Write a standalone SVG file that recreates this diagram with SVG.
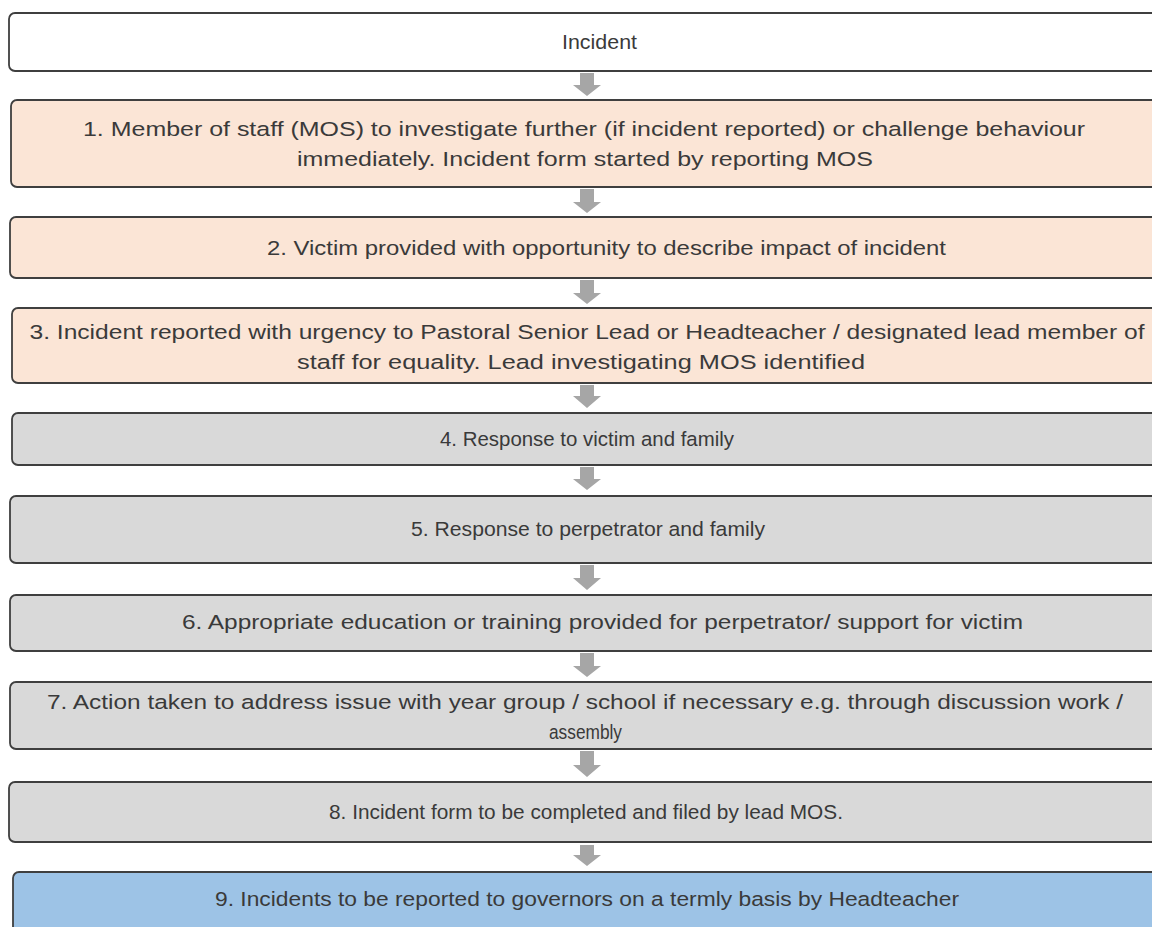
<svg xmlns="http://www.w3.org/2000/svg" width="1152" height="927" viewBox="0 0 1152 927">
<style>
.box{stroke:#3f3f3f;stroke-width:1.8}
.w{fill:#ffffff}
.p{fill:#fbe5d6}
.g{fill:#d9d9d9}
.b{fill:#9dc3e6}
.t{font-family:"Liberation Sans",Arial,sans-serif;font-size:20.5px;fill:#3a3a3a;text-anchor:middle}
.arr{fill:#a6a6a6;stroke:none}
</style>
<rect width="1152" height="927" fill="#ffffff"/>
<g id="connectors">
<path class="arr" d="M580,73H594V85H601L587,96L573,85H580Z"/>
<path class="arr" d="M580,189H594V202H601L587,213L573,202H580Z"/>
<path class="arr" d="M580,280H594V293H601L587,304L573,293H580Z"/>
<path class="arr" d="M580,385H594V396H601L587,408L573,396H580Z"/>
<path class="arr" d="M580,467H594V479H601L587,490L573,479H580Z"/>
<path class="arr" d="M580,565H594V578H601L587,590L573,578H580Z"/>
<path class="arr" d="M580,653H594V666H601L587,677L573,666H580Z"/>
<path class="arr" d="M580,751H594V765H601L587,777L573,765H580Z"/>
<path class="arr" d="M580,845H594V855H601L587,866L573,855H580Z"/>
</g>
<g id="n0"><rect class="box w" x="9" y="13" width="1151" height="58" rx="6"/><text class="t" x="599.5" y="49" textLength="75" lengthAdjust="spacingAndGlyphs">Incident</text></g>
<g id="n1"><rect class="box p" x="11" y="100" width="1149" height="87" rx="6"/><text class="t" x="584" y="136" textLength="1002" lengthAdjust="spacingAndGlyphs">1. Member  of staff (MOS) to investigate further (if incident reported) or challenge behaviour</text><text class="t" x="585" y="166" textLength="576" lengthAdjust="spacingAndGlyphs">immediately. Incident form started by reporting MOS</text></g>
<g id="n2"><rect class="box p" x="10" y="217" width="1150" height="61" rx="6"/><text class="t" x="606.5" y="255" textLength="679" lengthAdjust="spacingAndGlyphs">2. Victim provided with opportunity to describe impact of incident</text></g>
<g id="n3"><rect class="box p" x="12" y="308" width="1148" height="75" rx="6"/><text class="t" x="587" y="339" textLength="1115" lengthAdjust="spacingAndGlyphs">3. Incident reported with urgency to Pastoral Senior Lead or Headteacher / designated lead member  of</text><text class="t" x="581" y="369" textLength="568" lengthAdjust="spacingAndGlyphs">staff for equality. Lead  investigating MOS identified</text></g>
<g id="n4"><rect class="box g" x="12" y="413" width="1148" height="52" rx="6"/><text class="t" x="587" y="446" textLength="294" lengthAdjust="spacingAndGlyphs">4. Response to victim and family</text></g>
<g id="n5"><rect class="box g" x="10" y="496" width="1150" height="67" rx="6"/><text class="t" x="588" y="536" textLength="354" lengthAdjust="spacingAndGlyphs">5. Response to perpetrator and family</text></g>
<g id="n6"><rect class="box g" x="10" y="595" width="1150" height="56" rx="6"/><text class="t" x="602.5" y="629" textLength="841" lengthAdjust="spacingAndGlyphs">6. Appropriate education or training provided for perpetrator/ support for victim</text></g>
<g id="n7"><rect class="box g" x="10" y="682" width="1150" height="67" rx="6"/><text class="t" x="585" y="709" textLength="1076" lengthAdjust="spacingAndGlyphs">7. Action taken to address issue with year group / school if necessary e.g. through discussion work /</text><text class="t" x="585.5" y="739" textLength="73" lengthAdjust="spacingAndGlyphs">assembly</text></g>
<g id="n8"><rect class="box g" x="9" y="782" width="1151" height="60" rx="6"/><text class="t" x="586" y="819" textLength="514" lengthAdjust="spacingAndGlyphs">8. Incident form to be completed and filed by lead MOS.</text></g>
<g id="n9"><rect class="box b" x="13" y="872" width="1147" height="70" rx="6"/><text class="t" x="587" y="906" textLength="744" lengthAdjust="spacingAndGlyphs">9. Incidents to be reported to governors on a termly basis by Headteacher</text></g>
</svg>
